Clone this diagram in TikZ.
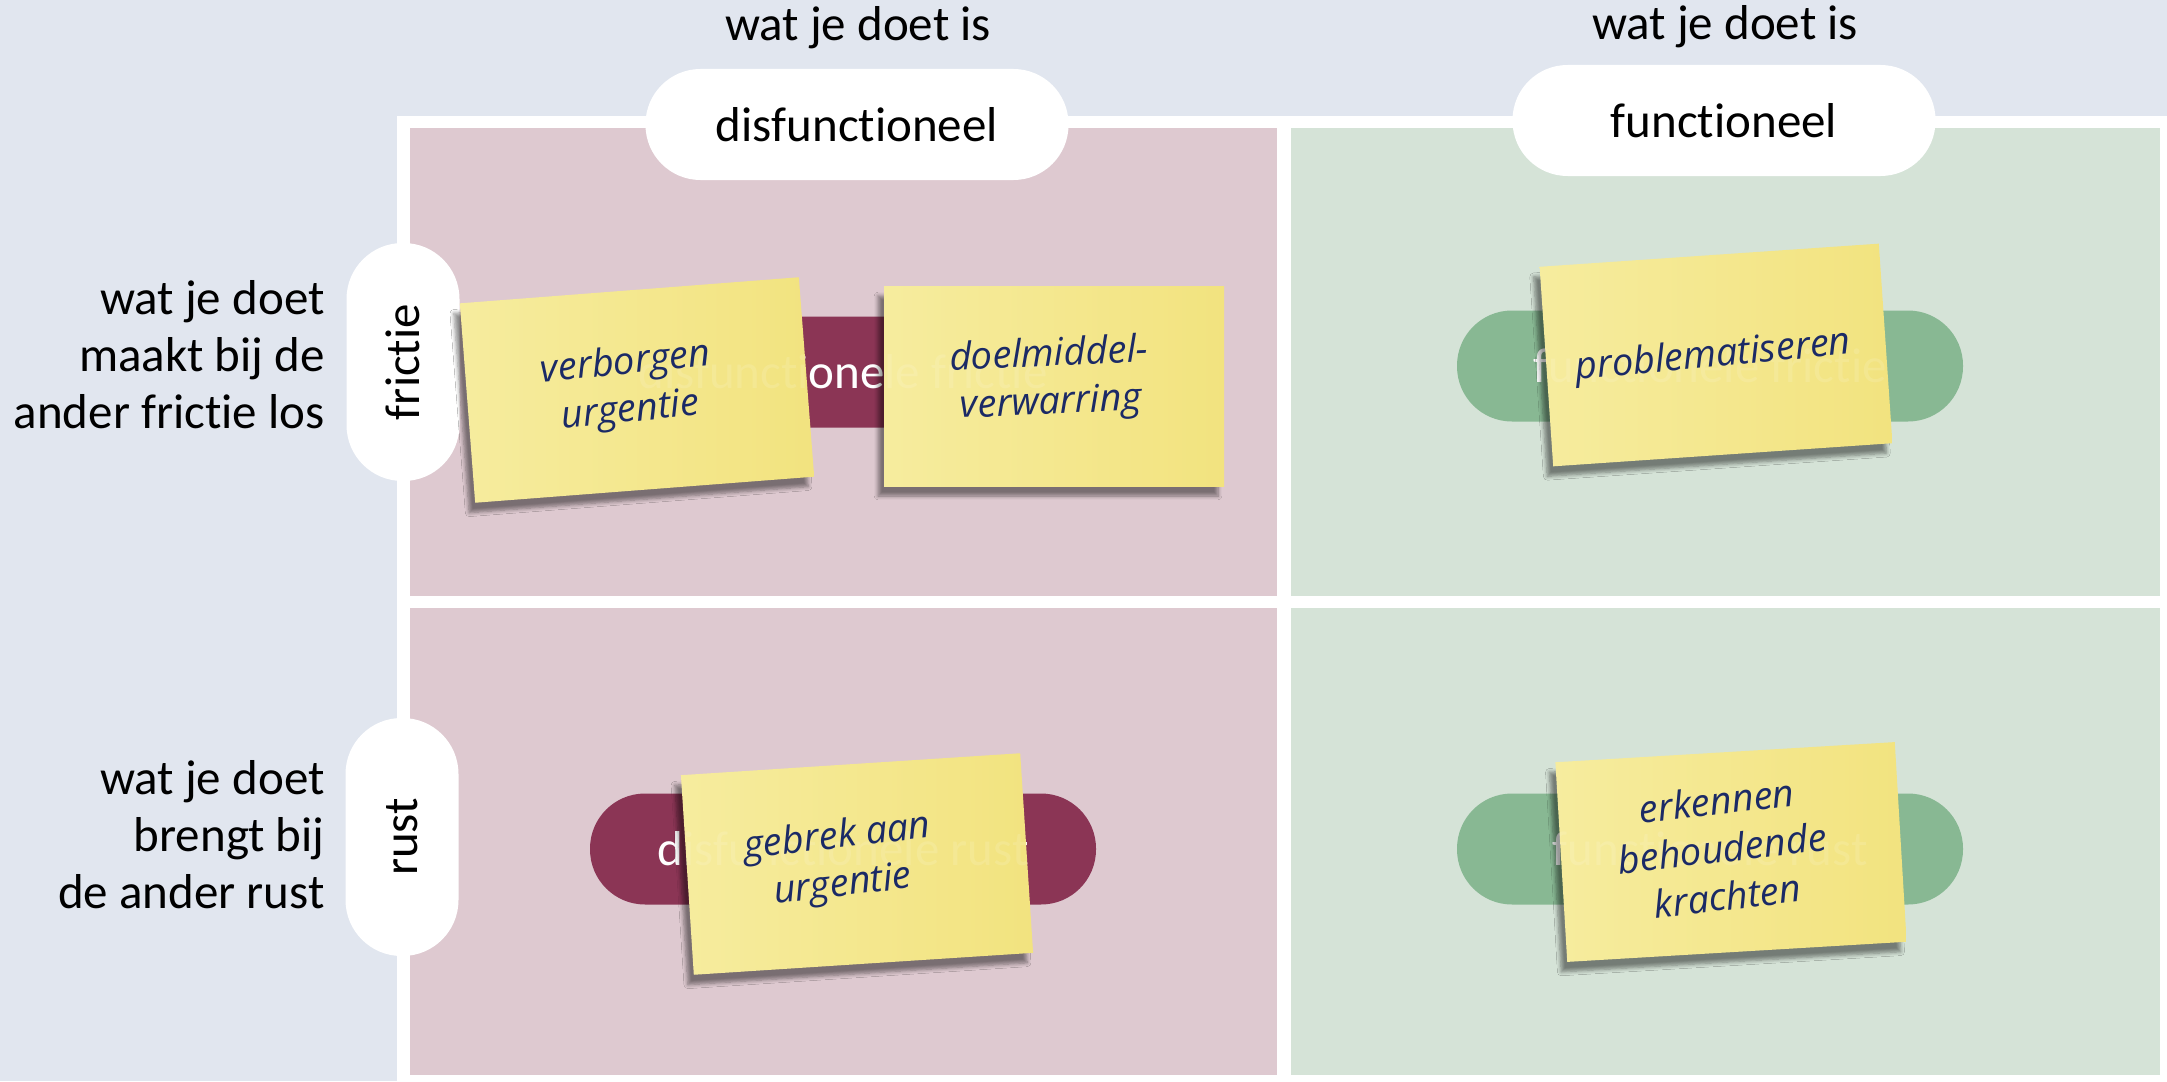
\documentclass[tikz,border=0pt]{standalone}
\usepackage{fontspec}
\setmainfont{Carlito}[Ligatures={NoCommon,NoRequired,NoContextual}]
\newfontfamily\handfont{Open Sans}
\usetikzlibrary{shadows.blur}
\definecolor{bg}{HTML}{E1E6EF}
\definecolor{pinkcell}{HTML}{DEC9D0}
\definecolor{greencell}{HTML}{D5E3D7}
\definecolor{maroon}{HTML}{8B3555}
\definecolor{sage}{HTML}{88B893}
\definecolor{noteA}{HTML}{F6EC9E}
\definecolor{noteB}{HTML}{F2E37F}
\definecolor{ink}{HTML}{1B2A66}
\begin{document}
\begin{tikzpicture}[x=0.5pt,y=-0.5pt,
  txt/.style={font=\fontsize{24.5}{28.5}\selectfont, text=black, inner sep=0},
  hpill/.style={fill=white, rounded corners=27.5pt, minimum width=211.5pt, minimum height=55.5pt, inner sep=0, txt},
  vpill/.style={fill=white, rounded corners=28pt, minimum width=119pt, minimum height=56.5pt, inner sep=0, txt, rotate=90},
  qpill/.style={rounded corners=27.5pt, minimum width=253pt, minimum height=55.5pt, inner sep=0, txt, text=white},
  ghost/.style={txt, text=white, opacity=0.12},
  note/.style={minimum width=170pt, minimum height=100pt, inner sep=0, left color=noteA, right color=noteB,
     blur shadow={shadow xshift=-3pt, shadow yshift=-5pt, shadow blur steps=6, shadow opacity=45}},
  hand/.style={font=\handfont\itshape\fontsize{19}{24}\selectfont, text=ink, align=center, inner sep=0},
]
\useasboundingbox (0,0) rectangle (2167,1081);
\fill[bg] (0,0) rectangle (2167,1081);
\fill[white] (397,116) rectangle (2167,1081);
\fill[pinkcell] (410,128) rectangle (1277,596);
\fill[greencell] (1291,128) rectangle (2160,596);
\fill[pinkcell] (410,608) rectangle (1277,1075);
\fill[greencell] (1291,608) rectangle (2160,1075);

% headers
\node[txt] (h1) at (858,28) {wat je doet is};
\node[hpill] (p1) at (857,124.5) {disfunctioneel};
\node[txt] (h2) at (1725,27) {wat je doet is};
\node[hpill] (p2) at (1724,120.5) {functioneel};

% side
\node[vpill] (s1) at (403,362) {frictie};
\node[vpill] (s2) at (402,837) {rust};
\node[txt, align=right, anchor=east] (l1) at (325,355) {wat je doet\\maakt bij de\\ander frictie los};
\node[txt, align=right, anchor=east] (l2) at (325,835) {wat je doet\\brengt bij\\de ander rust};

% quadrant pills
\node[qpill, fill=maroon] (q1) at (843,372) {disfunctionele frictie};
\node[qpill, fill=sage] (q2) at (1710,366) {functionele frictie};
\node[qpill, fill=maroon] (q3) at (843,849) {disfunctionele rust};
\node[qpill, fill=sage] (q4) at (1710,849) {functionele rust};

% notes
\node[note, rotate=4.4] (n1) at (637,390) {};
\node[note] (n2) at (1054,386) {};
\node[note, rotate=3.7] (n3) at (857,864) {};
\node[note, rotate=3.9] (n4) at (1716,355) {};
\node[note, rotate=3.4] (n5) at (1731,852) {};

% faint pill text over notes
\node[ghost] at (q1) {disfunctionele frictie};
\node[ghost] at (q2) {functionele frictie};
\node[ghost] at (q3) {disfunctionele rust};
\node[ghost] at (q4) {functionele rust};

% note texts
\node[hand, rotate=5.7] (t1) at (628,388) {verborgen\\urgentie};
\node[hand, rotate=2.5] (t2) at (1050,380) {doelmiddel-\\verwarring};
\node[hand, rotate=6.5] (t3) at (840,862) {gebrek aan\\urgentie};
\node[hand, rotate=5.4] (t4) at (1713,357) {problematiseren};
\node[hand, rotate=6.5] (t5) at (1722,848) {erkennen\\behoudende\\krachten};
\end{tikzpicture}
\end{document}
